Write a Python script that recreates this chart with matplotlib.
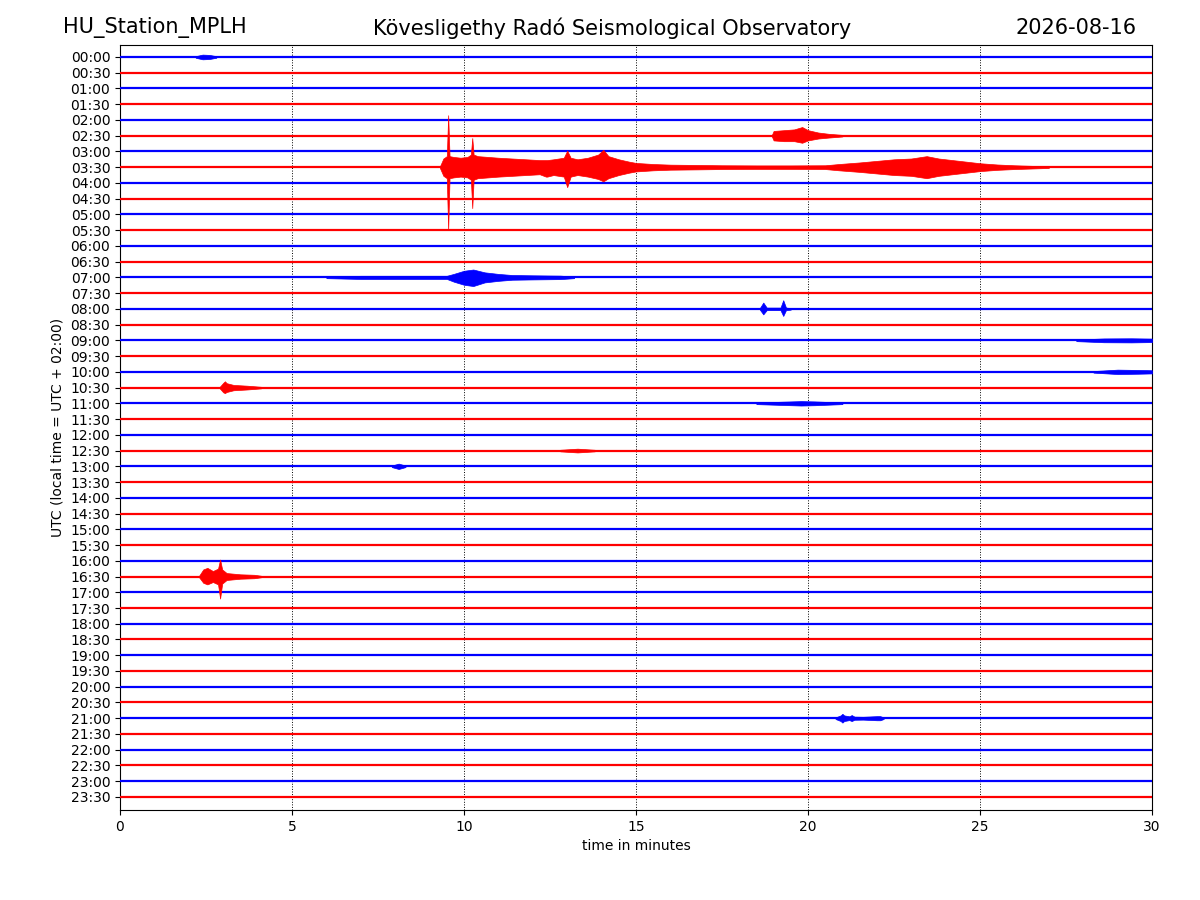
import matplotlib
matplotlib.use("Agg")
import matplotlib.pyplot as plt

station = "HU_Station_MPLH"
observatory = "Kövesligethy Radó Seismological Observatory"
day = "2026-08-16"

# row labels, one row = 30 minutes
row_labels = ["%02d:%02d" % (h, m) for h in range(24) for m in (0, 30)]
row_colors = ["blue", "red"]
minutes = [0, 30]

# event envelopes: time (min), amplitude above / below the trace (in rows)
ev_0000_t = [2.2, 2.4, 2.6, 2.8]
ev_0000_up = [0.05, 0.15, 0.13, 0.05]
ev_0000_dn = [0.05, 0.15, 0.13, 0.05]

ev_0230_t = [18.95, 19.0, 19.3, 19.6, 19.83, 20.0, 20.3, 20.6, 21.0]
ev_0230_up = [0.05, 0.3, 0.35, 0.4, 0.55, 0.35, 0.2, 0.12, 0.05]
ev_0230_dn = [0.05, 0.3, 0.35, 0.35, 0.45, 0.3, 0.18, 0.12, 0.05]

ev_0330_t = [9.30, 9.40, 9.50, 9.54, 9.58, 9.70, 9.90, 10.10, 10.20, 10.24, 10.28, 10.40,
             10.70, 11.0, 11.4, 11.8, 12.2, 12.38, 12.42, 12.6, 12.9, 13.0, 13.1, 13.3,
             13.6, 13.9, 14.05, 14.2, 14.5, 14.8, 15.0, 15.5, 16.0, 16.8, 17.5, 18.5,
             19.5, 20.5, 20.9, 21.5, 22.0, 22.5, 23.0, 23.45, 23.8, 24.2, 24.6, 25.0,
             25.5, 26.0, 27.0]
ev_0330_up = [0.05, 0.55, 0.7, 3.3, 0.7, 0.65, 0.6, 0.65, 0.8, 1.85, 0.8, 0.7,
              0.65, 0.6, 0.55, 0.5, 0.45, 0.45, 0.45, 0.5, 0.6, 1.05, 0.6, 0.5,
              0.6, 0.8, 1.1, 0.7, 0.5, 0.35, 0.27, 0.2, 0.16, 0.14, 0.12, 0.11,
              0.11, 0.12, 0.2, 0.3, 0.4, 0.5, 0.55, 0.7, 0.55, 0.45, 0.35, 0.25,
              0.17, 0.12, 0.05]
ev_0330_dn = [0.05, 0.55, 0.7, 4.0, 0.7, 0.65, 0.6, 0.65, 0.8, 2.6, 0.8, 0.7,
              0.65, 0.6, 0.55, 0.5, 0.45, 0.6, 0.6, 0.5, 0.6, 1.27, 0.6, 0.5,
              0.6, 0.75, 0.9, 0.7, 0.5, 0.35, 0.27, 0.2, 0.16, 0.14, 0.12, 0.11,
              0.11, 0.12, 0.2, 0.3, 0.4, 0.5, 0.55, 0.7, 0.55, 0.45, 0.35, 0.25,
              0.17, 0.12, 0.05]

ev_0700_t = [6.0, 7.0, 8.5, 9.5, 9.7, 10.0, 10.27, 10.6, 11.0, 11.4, 12.0, 12.8, 13.2]
ev_0700_up = [0.05, 0.1, 0.1, 0.1, 0.22, 0.42, 0.5, 0.32, 0.22, 0.15, 0.13, 0.11, 0.05]
ev_0700_dn = [0.05, 0.1, 0.1, 0.1, 0.27, 0.47, 0.55, 0.32, 0.22, 0.15, 0.13, 0.11, 0.05]

ev_0800_t = [18.6, 18.7, 18.8, 19.2, 19.28, 19.36, 19.5]
ev_0800_up = [0.05, 0.4, 0.08, 0.08, 0.55, 0.08, 0.05]
ev_0800_dn = [0.05, 0.35, 0.08, 0.08, 0.45, 0.08, 0.05]

ev_0900_t = [27.8, 28.6, 29.4, 30.0]
ev_0900_up = [0.05, 0.12, 0.13, 0.11]
ev_0900_dn = [0.05, 0.12, 0.13, 0.11]

ev_1000_t = [28.3, 29.0, 29.6, 30.0]
ev_1000_up = [0.05, 0.14, 0.12, 0.1]
ev_1000_dn = [0.05, 0.14, 0.12, 0.1]

ev_1030_t = [2.9, 3.0, 3.05, 3.1, 3.3, 3.7, 4.1]
ev_1030_up = [0.05, 0.3, 0.4, 0.28, 0.17, 0.12, 0.05]
ev_1030_dn = [0.05, 0.3, 0.35, 0.28, 0.17, 0.12, 0.05]

ev_1100_t = [18.5, 19.5, 19.8, 20.2, 21.0]
ev_1100_up = [0.05, 0.12, 0.14, 0.12, 0.05]
ev_1100_dn = [0.05, 0.12, 0.14, 0.12, 0.05]

ev_1230_t = [12.8, 13.3, 13.8]
ev_1230_up = [0.05, 0.12, 0.05]
ev_1230_dn = [0.05, 0.12, 0.05]

ev_1300_t = [7.9, 8.1, 8.3]
ev_1300_up = [0.05, 0.17, 0.05]
ev_1300_dn = [0.05, 0.17, 0.05]

ev_1630_t = [2.3, 2.42, 2.54, 2.7, 2.85, 2.91, 2.97, 3.1, 3.5, 3.9, 4.1]
ev_1630_up = [0.05, 0.45, 0.55, 0.35, 0.5, 1.08, 0.45, 0.22, 0.14, 0.11, 0.05]
ev_1630_dn = [0.05, 0.4, 0.5, 0.35, 0.5, 1.4, 0.45, 0.22, 0.14, 0.11, 0.05]

ev_2100_t = [20.8, 20.95, 21.0, 21.05, 21.2, 21.27, 21.35, 21.6, 22.0, 22.1, 22.2]
ev_2100_up = [0.05, 0.18, 0.28, 0.18, 0.12, 0.2, 0.1, 0.09, 0.13, 0.13, 0.05]
ev_2100_dn = [0.05, 0.18, 0.28, 0.18, 0.12, 0.18, 0.1, 0.09, 0.13, 0.13, 0.05]

events = [
    ("00:00", ev_0000_t, ev_0000_up, ev_0000_dn),
    ("02:30", ev_0230_t, ev_0230_up, ev_0230_dn),
    ("03:30", ev_0330_t, ev_0330_up, ev_0330_dn),
    ("07:00", ev_0700_t, ev_0700_up, ev_0700_dn),
    ("08:00", ev_0800_t, ev_0800_up, ev_0800_dn),
    ("09:00", ev_0900_t, ev_0900_up, ev_0900_dn),
    ("10:00", ev_1000_t, ev_1000_up, ev_1000_dn),
    ("10:30", ev_1030_t, ev_1030_up, ev_1030_dn),
    ("11:00", ev_1100_t, ev_1100_up, ev_1100_dn),
    ("12:30", ev_1230_t, ev_1230_up, ev_1230_dn),
    ("13:00", ev_1300_t, ev_1300_up, ev_1300_dn),
    ("16:30", ev_1630_t, ev_1630_up, ev_1630_dn),
    ("21:00", ev_2100_t, ev_2100_up, ev_2100_dn),
]

fig = plt.figure(figsize=(12, 9), dpi=100)
ax = fig.add_axes([0.1, 0.1, 0.86, 0.85])

rows = list(range(len(row_labels)))
for i in rows:
    ax.hlines(i, minutes[0], minutes[1], color=row_colors[i % 2], linewidth=1.6, zorder=3)

for lab, t, up, dn in events:
    i = row_labels.index(lab)
    lo = [i + d for d in dn]
    hi = [i - u for u in up]
    ax.fill_between(t, lo, hi, color=row_colors[i % 2], linewidth=0.5, zorder=4)

ax.set_xlim(minutes)
ax.set_ylim(len(row_labels) - 1 + 0.83, -0.76)
ax.set_yticks(rows)
ax.set_yticklabels(row_labels)
ax.set_xticks(range(0, 31, 5))
ax.xaxis.grid(True, linestyle=":", color="k", linewidth=0.7)
ax.set_xlabel("time in minutes")
ax.set_ylabel("UTC (local time = UTC + 02:00)")

fig.text(0.0525, 0.969, station, fontsize=15, va="center")
fig.text(0.51, 0.969, observatory, fontsize=15, va="center", ha="center")
fig.text(0.9475, 0.969, day, fontsize=15, va="center", ha="right")

fig.savefig("out.png", dpi=100)
